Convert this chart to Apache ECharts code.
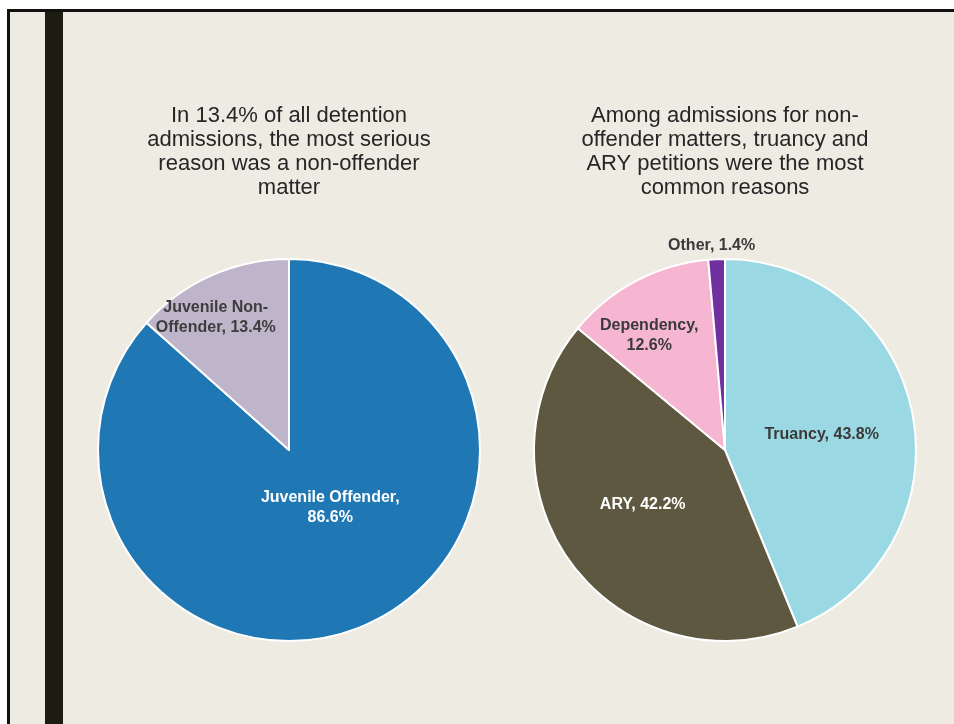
<!DOCTYPE html>
<html><head><meta charset="utf-8">
<script src="https://cdn.jsdelivr.net/npm/echarts@6/dist/echarts.min.js"></script>
<style>html,body{margin:0;padding:0;background:#fff}#c{width:954px;height:724px}</style>
</head><body><div id="c"></div>
<script>
const leftTitle = "In 13.4% of all detention\nadmissions, the most serious\nreason was a non-offender\nmatter";
const rightTitle = "Among admissions for non-\noffender matters, truancy and\nARY petitions were the most\ncommon reasons";
const leftCategories = ["Juvenile Offender", "Juvenile Non-Offender"];
const leftLabels = ["Juvenile Offender,\n86.6%", "Juvenile Non-\nOffender, 13.4%"];
const leftValues = [86.6, 13.4];
const rightCategories = ["Truancy", "ARY", "Dependency", "Other"];
const rightLabels = ["Truancy, 43.8%", "ARY, 42.2%", "Dependency,\n12.6%", "Other, 1.4%"];
const rightValues = [43.8, 42.2, 12.6, 1.4];

const leftColors = ["#1F77B4", "#BFB5CA"];
const leftLabelColors = ["#ffffff", "#3d3d3d"];
const leftOffsets = [[1, -32], [-33, -43]];
const rightColors = ["#9AD9E4", "#5E5841", "#F6B6D2", "#7030A0"];
const rightLabelColors = ["#3a3a3a", "#ffffff", "#3a3a3a", "#3a3a3a"];
const rightOffsets = [[0, 4], [-3, -4], [-30, -27], [-9, -106]];

const labelFont = {fontFamily: "Liberation Sans", fontSize: 16, fontWeight: 'bold', lineHeight: 20};
const titleFont = {fontFamily: "Liberation Sans", fontSize: 22, fontWeight: 'normal', color: '#262626', lineHeight: 24};

function build(cats, labels, vals, colors, lcolors, offs) {
  return cats.map((c, i) => ({
    name: c, value: vals[i],
    itemStyle: {color: colors[i]},
    label: Object.assign({formatter: labels[i], color: lcolors[i], offset: offs[i]}, labelFont)
  }));
}

const chart = echarts.init(document.getElementById('c'));
chart.setOption({
  animation: false,
  backgroundColor: '#ffffff',
  graphic: [
    {type: 'rect', shape: {x: 8.5, y: 10.5, width: 1000, height: 800}, style: {fill: '#EEEBE3', stroke: '#111111', lineWidth: 3}, z: -10},
    {type: 'rect', shape: {x: 45, y: 12, width: 18, height: 800}, style: {fill: '#1C1D10'}, z: -9}
  ],
  title: [
    {text: leftTitle, left: 284, top: 99, textAlign: 'center', textStyle: titleFont},
    {text: rightTitle, left: 720, top: 99, textAlign: 'center', textStyle: titleFont}
  ],
  series: [
    {type: 'pie', center: [289, 450], radius: 191, startAngle: 90, clockwise: true,
     label: {position: 'inside'}, labelLine: {show: false},
     itemStyle: {borderColor: '#ffffff', borderWidth: 2},
     emphasis: {disabled: true},
     data: build(leftCategories, leftLabels, leftValues, leftColors, leftLabelColors, leftOffsets)},
    {type: 'pie', center: [725, 450], radius: 191, startAngle: 90, clockwise: true,
     label: {position: 'inside'}, labelLine: {show: false},
     itemStyle: {borderColor: '#ffffff', borderWidth: 2},
     emphasis: {disabled: true},
     data: build(rightCategories, rightLabels, rightValues, rightColors, rightLabelColors, rightOffsets)}
  ]
});
</script></body></html>
